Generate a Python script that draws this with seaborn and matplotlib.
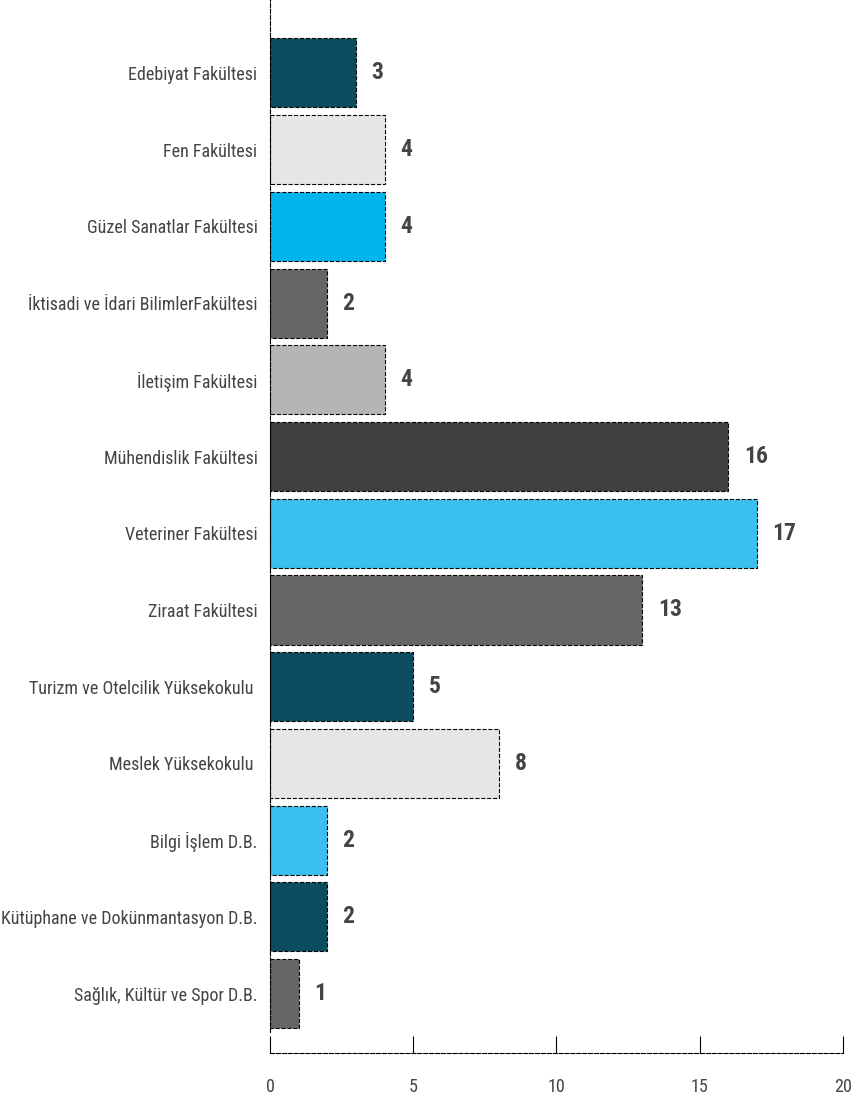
import pandas as pd
import seaborn as sns
import matplotlib.pyplot as plt

# Data
categories = [
    "Edebiyat Fakültesi",
    "Fen Fakültesi",
    "Güzel Sanatlar Fakültesi",
    "İktisadi ve İdari BilimlerFakültesi",
    "İletişim Fakültesi",
    "Mühendislik Fakültesi",
    "Veteriner Fakültesi",
    "Ziraat Fakültesi",
    "Turizm ve Otelcilik Yüksekokulu ",
    "Meslek Yüksekokulu ",
    "Bilgi İşlem D.B.",
    "Kütüphane ve Dokünmantasyon D.B.",
    "Sağlık, Kültür ve Spor D.B.",
]
values = [3, 4, 4, 2, 4, 16, 17, 13, 5, 8, 2, 2, 1]
bar_colors = ["#0b4c5f", "#e6e6e6", "#00b5ee", "#666666", "#b5b5b5", "#404040",
              "#3bbfef", "#666666", "#0b4c5f", "#e6e6e6", "#3bbfef", "#0b4c5f",
              "#666666"]
x_ticks = [0, 5, 10, 15, 20]

df = pd.DataFrame({"Birim": categories, "Sayi": values})

sns.set_style("white")
plt.rcParams['font.family'] = ['Roboto Condensed', 'DejaVu Sans']
plt.rcParams['font.stretch'] = 'condensed'
text_color = "#444444"

fig = plt.figure(figsize=(8.53, 10.94), dpi=100)
ax = fig.add_axes([0.3165, 0.0567, 0.6718, 0.9433])

sns.barplot(data=df, x="Sayi", y="Birim", hue="Birim", palette=bar_colors,
            saturation=1, legend=False, width=0.9, edgecolor="black",
            linestyle="--", linewidth=0.8, ax=ax)

# value labels next to each bar
for cont in ax.containers:
    ax.bar_label(cont, padding=11, fontsize=17, fontweight="bold", color=text_color)

ax.set_xlim(0, 20)
ax.set_ylim(12.5, -0.95)
ax.set_xticks(x_ticks)
ax.set_xlabel("")
ax.set_ylabel("")

for s in ["top", "right"]:
    ax.spines[s].set_visible(False)
for s in ["left", "bottom"]:
    ax.spines[s].set_linestyle("--")
    ax.spines[s].set_color("black")
    ax.spines[s].set_linewidth(0.8)
ax.spines["bottom"].set_position(("outward", 15))

ax.tick_params(axis="x", bottom=True, direction="in", length=12, width=0.8,
               color="black", pad=18, labelsize=13, labelcolor=text_color)
ax.tick_params(axis="y", left=False, length=0, pad=9, labelsize=13,
               labelcolor=text_color)

plt.savefig("out.png", dpi=100)
